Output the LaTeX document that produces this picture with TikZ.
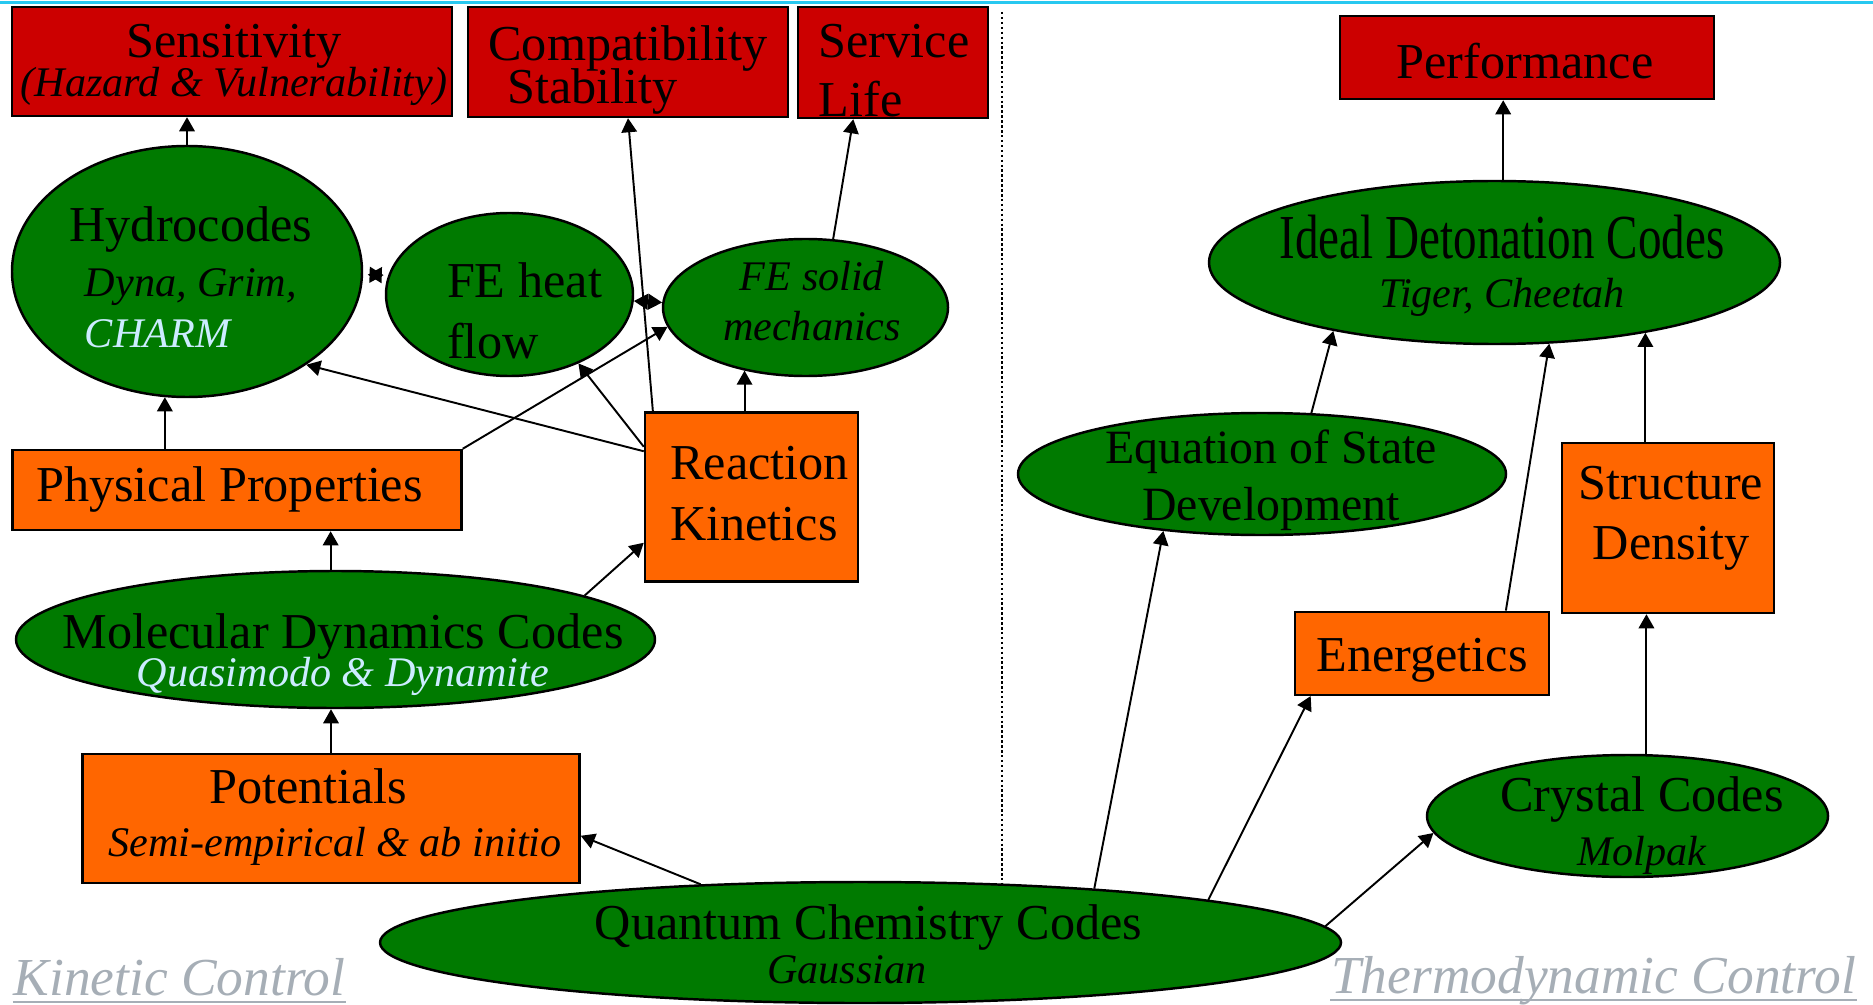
\documentclass[tikz,border=0pt]{standalone}
\usepackage{fontspec}
\setmainfont{Liberation Serif}
\usepackage{graphicx}
\usetikzlibrary{shapes.geometric,arrows.meta}
\definecolor{boxred}{RGB}{204,0,0}
\definecolor{boxorange}{RGB}{255,102,0}
\definecolor{codegreen}{RGB}{0,122,0}
\definecolor{codecyan}{RGB}{204,236,255}
\definecolor{ctrlgray}{RGB}{166,174,182}
\definecolor{slidecyan}{RGB}{40,200,240}
\newcommand{\drawred}{\node[draw,rectangle,fill=boxred,line width=0.7pt,inner sep=0]}
\newcommand{\draworange}{\node[draw,rectangle,fill=boxorange,line width=0.7pt,inner sep=0]}
\newcommand{\drawoval}{\node[draw,ellipse,fill=codegreen,line width=0.7pt,inner sep=0]}
\newcommand{\drawtext}{\node[inner sep=0]}
\newcommand{\codes}[1]{{\fontsize{12}{12}\selectfont\itshape #1}}
\newcommand{\ctrl}[1]{{\fontsize{15.2}{16}\selectfont\itshape\color{ctrlgray}#1}}

\begin{document}
\begin{tikzpicture}[x=0.1mm, y=-0.1mm,
  txt/.style={font={\fontsize{14.3}{#1}\selectfont\lineskiplimit=-20pt}},
  txt/.default=17pt,
  link/.style={arrows={-Triangle[length=4pt,width=4.4pt]}, line width=0.55pt},
  twin/.style={arrows={Triangle[length=#1,width=4.5pt]-Triangle[length=#1,width=4.5pt]}, line width=0.55pt}]
\useasboundingbox (0,0) rectangle (1873,1004);
% slide rule and divider
\draw[slidecyan, line width=0.6pt] (0,2.5) -- (1873,2.5);
\draw[dash pattern=on 0.7pt off 0.7pt, line width=0.5pt] (1002,12) -- (1002,883);

% kinetic control side
\drawred[minimum width=44mm, minimum height=10.9mm] (sens) at (232,61.5) {};
\drawred[minimum width=32mm, minimum height=11mm] (compat) at (628,62) {};
\drawred[minimum width=19mm, minimum height=11.1mm] (life) at (893,62.5) {};
\drawoval[minimum width=35mm, minimum height=25.1mm] (hydro) at (187,271.5) {};
\drawoval[minimum width=24.7mm, minimum height=16.3mm] (heat) at (509.5,294.5) {};
\drawoval[minimum width=28.5mm, minimum height=13.7mm] (solid) at (805.5,307.5) {};
\draworange[minimum width=44.9mm, minimum height=8mm] (phys) at (237,490) {};
\draworange[minimum width=21.3mm, minimum height=16.9mm] (react) at (751.5,497) {};
\drawoval[minimum width=63.9mm, minimum height=13.7mm] (md) at (335.5,639.5) {};
\draworange[minimum width=49.7mm, minimum height=12.9mm] (pot) at (331,818.3) {};
\drawoval[minimum width=96.1mm, minimum height=12.1mm] (qc) at (860.5,942.5) {};

% thermodynamic control side
\drawred[minimum width=37.4mm, minimum height=8.3mm] (perf) at (1527,57.5) {};
\drawoval[minimum width=57.1mm, minimum height=16.3mm] (ideal) at (1494.5,262.5) {};
\drawoval[minimum width=48.8mm, minimum height=12.2mm] (eos) at (1262,474) {};
\draworange[minimum width=25.4mm, minimum height=8.3mm] (energ) at (1422,653.3) {};
\draworange[minimum width=21.2mm, minimum height=17mm] (struct) at (1668,528) {};
\drawoval[minimum width=40.1mm, minimum height=12.2mm] (crystal) at (1627.5,816) {};

% links
\draw[link] (hydro.north) -- (hydro.north |- sens.south);
\draw[link] (phys.north -| hydro.260) -- (hydro.260);
\draw[link] (react.157) -- (hydro.322);
\draw[link] (phys.north east) -- (solid.188);
\draw[link] (react.155) -- (heat.315);
\draw[link] (react.139) -- (compat.south);
\draw[link] (react.north -| solid.226) -- (solid.226);
\draw[link] (solid.68) -- (life.235);
\draw[twin=4pt, shorten <=1.3pt, shorten >=1.3pt] (hydro.359) -- (heat.171);
\draw[twin=4pt] (heat.357) -- (solid.178);
\draw[link] (md.94) -- (md.94 |- phys.south);
\draw[link] (md.10) -- (react.203);
\draw[link] (pot.north) -- (pot.north |- md.south);
\draw[link] (qc.160) -- (pot.356);
\draw[link] (qc.13) -- (eos.210);
\draw[link] (qc.7) -- (energ.201);
\draw[link] (qc.2) -- (crystal.185);
\draw[link] (crystal.73) -- (crystal.73 |- struct.south);
\draw[link] (ideal.335 |- struct.north) -- (ideal.335);
\draw[link] (energ.27) -- (ideal.304);
\draw[link] (eos.51) -- (ideal.203);
\draw[link] (ideal.84) -- (ideal.84 |- perf.south);

% texts
\drawtext[txt=11.1pt, align=center] (sens-l) at (234,65.1) {Sensitivity\\\codes{(Hazard \& Vulnerability)}};
\drawtext[txt=12.3pt, align=left] (compat-l) at (628,69.9) {Compatibility\\\hspace*{5.4pt}Stability};
\drawtext[txt=16.8pt, align=left] (life-l) at (894,70.5) {Service\\Life};
\drawtext[txt=14.5pt, align=center] (hydro-l) at (191,281.7) {Hydrocodes\\[1.1pt]\codes{Dyna, Grim,}\\\codes{\rlap{\color{codecyan}CHARM}\phantom{Dyna, Grim,}}};
\drawtext[txt=17.2pt, align=left] (heat-l) at (524.5,310.7) {FE heat\\flow};
\drawtext[txt=14.4pt, align=center] (solid-l) at (812,301) {\codes{FE solid}\\\codes{mechanics}};
\drawtext[txt, anchor=base] (phys-l) at (229.5,501) {Physical Properties};
\drawtext[txt=17.5pt, align=left] (react-l) at (759.5,493.5) {Reaction\\Kinetics};
\drawtext[txt=10.9pt, align=center] (md-l) at (343,654.8) {Molecular Dynamics Codes\\\codes{\color{codecyan}Quasimodo \& Dynamite}};
\drawtext[txt=15.2pt, align=center] (pot-l) at (335,817.3) {Potentials\hspace*{15.2pt}\\\codes{Semi-empirical \& ab initio}};
\drawtext[txt=12.5pt, align=center] (qc-l) at (868.5,944.7) {Quantum Chemistry Codes\\\codes{Gaussian}\hspace*{12.4pt}};
\drawtext[txt, anchor=base] (perf-l) at (1525,78.3) {Performance};
\drawtext[txt=13.9pt, align=center] (ideal-l) at (1502,266) {\scalebox{1}[1.33]{\fontsize{13.4}{14}\selectfont Ideal Detonation Codes}\\\codes{Tiger, Cheetah}};
\drawtext[font={\fontsize{13.6}{16.3pt}\selectfont}, align=center] (eos-l) at (1271,480.2) {Equation of State\\Development};
\drawtext[txt, anchor=base] (energ-l) at (1422,671.7) {Energetics};
\drawtext[txt=17.1pt, align=center] (struct-l) at (1671,518.2) {Structure\\Density};
\drawtext[txt=15.2pt, align=center] (crystal-l) at (1642,825.7) {Crystal Codes\\\codes{Molpak}};

% control labels
\drawtext[anchor=base] (kin) at (179.5,995) {\ctrl{Kinetic Control}};
\drawtext[anchor=base] (thermo) at (1593.5,993) {\ctrl{Thermodynamic Control}};
\draw[ctrlgray, line width=0.75pt] ([yshift=-2pt]kin.base west) -- ([yshift=-2pt]kin.base east);
\draw[ctrlgray, line width=0.75pt] ([yshift=-2pt]thermo.base west) -- ([yshift=-2pt]thermo.base east);
\end{tikzpicture}
\end{document}
